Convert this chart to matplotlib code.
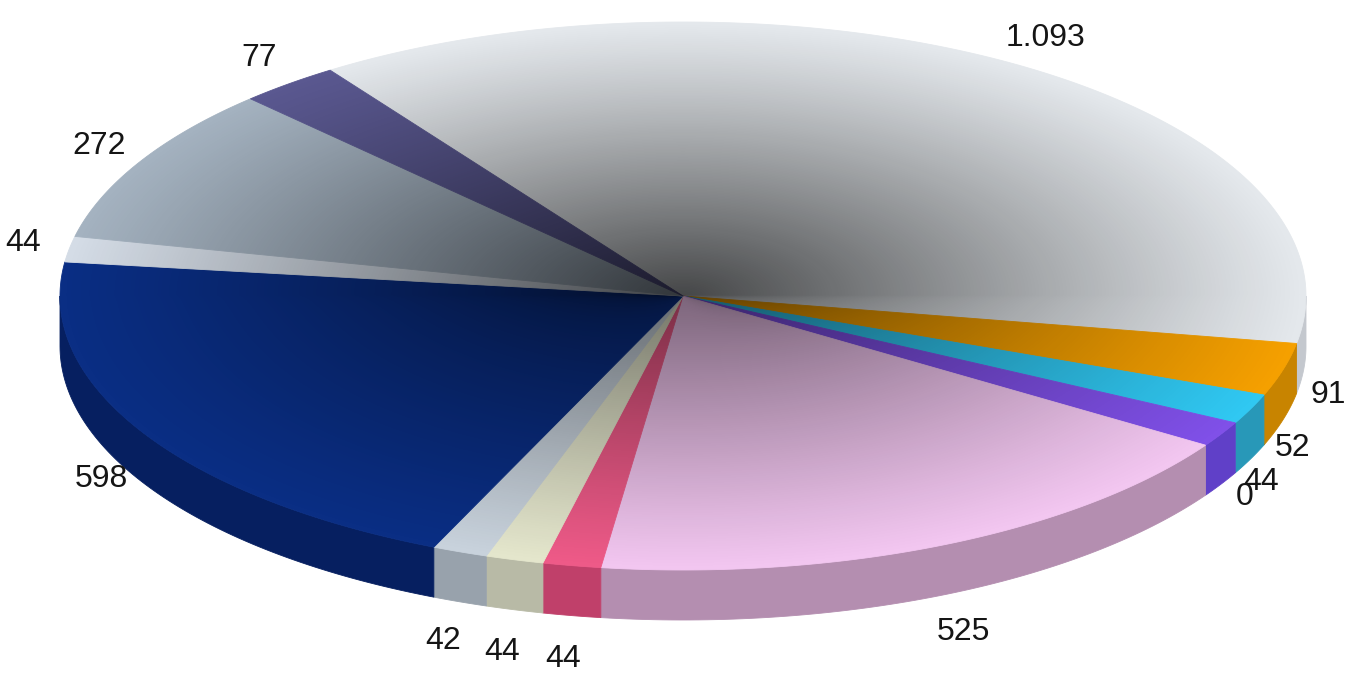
import numpy as np
import matplotlib
matplotlib.use("Agg")
import matplotlib.pyplot as plt
from matplotlib.patches import Polygon, Ellipse

# ---- data ----
labels = ["1.093", "91", "52", "44", "0", "525", "44", "44", "42", "598", "44", "272", "77"]
values = [1093, 91, 52, 44, 0, 525, 44, 44, 42, 598, 44, 272, 77]
top_colors = ["#e4e8ec", "#f5a000", "#30c8f2", "#8050e8", "#c0a0e0", "#f2c6f0",
              "#ee5a88", "#e4e6cc", "#c8d2dc", "#0a2e84", "#d4dce6", "#a4b2c0", "#5a5890"]
side_colors = ["#c4c8ce", "#c88400", "#2898b8", "#6040c8", "#a080c0", "#b48eb0",
               "#c0406a", "#b8baa6", "#98a2ac", "#061f60", "#a8b0ba", "#808a96", "#404070"]

W, H = 1346, 673
fig = plt.figure(figsize=(W / 100, H / 100), dpi=100)
ax = fig.add_axes([0, 0, 1, 1])
ax.set_xlim(0, W)
ax.set_ylim(H, 0)
ax.axis("off")

cx, cy, a, b, depth = 683, 296, 623, 274, 50
start = 124.5
total = float(sum(values))
angles = start - np.cumsum([0] + values) / total * 360.0


def pt(t, dz=0.0, k=1.0):
    r = np.radians(t)
    return cx + a * k * np.cos(r), cy - b * k * np.sin(r) + dz


# side walls (front half only)
for i in range(len(values)):
    t0, t1 = angles[i], angles[i + 1]
    lo, hi = max(t1, -180.0), min(t0, 0.0)
    if lo < hi:
        ts = np.linspace(lo, hi, 80)
        xs, ys = pt(ts)
        xb, yb = pt(ts[::-1], depth)
        poly = np.column_stack([np.concatenate([xs, xb]), np.concatenate([ys, yb])])
        ax.add_patch(Polygon(poly, closed=True, facecolor=side_colors[i],
                             edgecolor=side_colors[i], lw=0.6, zorder=1))

# top faces
for i in range(len(values)):
    t0, t1 = angles[i], angles[i + 1]
    if t0 - t1 <= 0:
        continue
    ts = np.linspace(t0, t1, max(4, int((t0 - t1) * 2)))
    xs, ys = pt(ts)
    poly = np.column_stack([np.concatenate([[cx], xs]), np.concatenate([[cy], ys])])
    ax.add_patch(Polygon(poly, closed=True, facecolor=top_colors[i],
                         edgecolor=top_colors[i], lw=0.6, zorder=2))

# shading on the top face: dark at the hub, slightly lighter toward the front
gx = np.linspace(cx - a, cx + a, 700)
gy = np.linspace(cy - b, cy + b, 350)
GX, GY = np.meshgrid(gx, gy)
NX = (GX - cx) / a
NY = (cy - GY) / b
R = np.sqrt(NX ** 2 + NY ** 2)
Rc = np.clip(R, 0, 1)
down = np.clip(-NY / np.maximum(R, 1e-6), 0, 1)
factor = 1 - 0.3 * np.sqrt(down)
shade = np.zeros(R.shape + (4,))
shade[..., 3] = 0.70 * (1 - Rc) ** 1.1 * factor
clip = Ellipse((cx, cy), 2 * a, 2 * b, transform=ax.transData, facecolor="none", edgecolor="none")
ax.add_patch(clip)
im = ax.imshow(shade, extent=(cx - a, cx + a, cy + b, cy - b), origin="upper",
               interpolation="bilinear", zorder=3, aspect="auto")
im.set_clip_path(clip)
ax.set_xlim(0, W)
ax.set_ylim(H, 0)

# labels
for i in range(len(values)):
    mid = (angles[i] + angles[i + 1]) / 2.0
    s = np.sin(np.radians(mid))
    c = np.cos(np.radians(mid))
    x = cx + a * 1.075 * c
    y = cy - b * 1.12 * s + (1.25 * depth * (-s) if s < 0 else 0)
    ax.text(x, y, labels[i], ha="center", va="center", fontsize=23,
            family="Liberation Sans", color="#151515", zorder=5)

fig.savefig("out.png", dpi=100)
